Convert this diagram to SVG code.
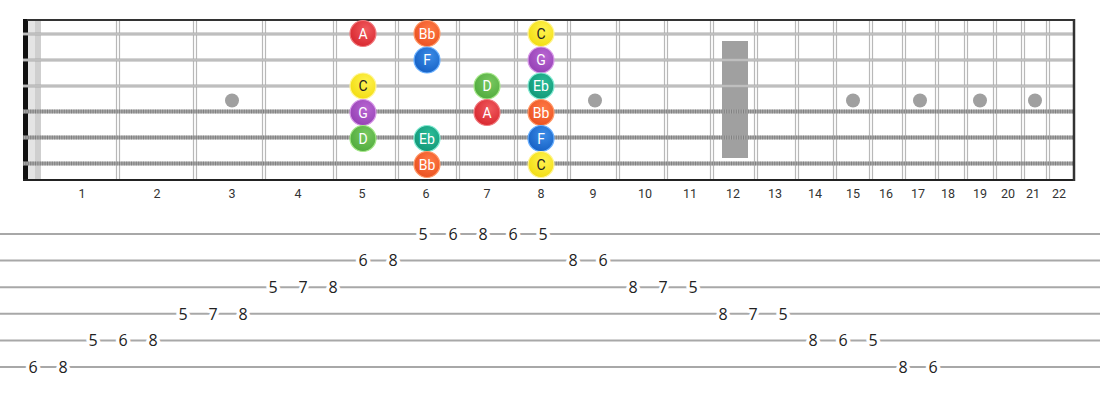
<svg xmlns="http://www.w3.org/2000/svg" width="1100" height="400" viewBox="0 0 1100 400">
<defs>
<style>
.fret{stroke:#b8b8b8;stroke-width:1.2;fill:none}
.str{stroke:#ababab;stroke-width:3}
.strin{stroke:#d2d2d2;stroke-width:1}
.wbase{stroke:#a8a8a8;stroke-width:4}
.wtex{stroke:#666;stroke-width:4;stroke-dasharray:1 1.4;opacity:0.6}
.dot{fill:#a0a0a0}
.fn{font-family:Roboto,"Liberation Sans",sans-serif;font-size:12.5px;fill:#333;text-anchor:middle}
.nt{font-family:Roboto,"Liberation Sans",sans-serif;font-size:14px;fill:#fff;text-anchor:middle}
.ntd{fill:#222}
.tl{stroke:#a8a8a8;stroke-width:2}
.tn{font-family:"Open Sans","Noto Sans","Liberation Sans",sans-serif;font-size:16px;fill:#222;text-anchor:middle;stroke:#fff;stroke-width:7;paint-order:stroke;stroke-linejoin:round}
</style>
<radialGradient id="gA" cx="0.6" cy="0.35" r="0.7"><stop offset="0" stop-color="#f05a5e"/><stop offset="1" stop-color="#d8262e"/></radialGradient>
<radialGradient id="gBb" cx="0.6" cy="0.35" r="0.7"><stop offset="0" stop-color="#ff7a45"/><stop offset="1" stop-color="#ea5020"/></radialGradient>
<radialGradient id="gF" cx="0.6" cy="0.35" r="0.7"><stop offset="0" stop-color="#3b8be6"/><stop offset="1" stop-color="#1560c4"/></radialGradient>
<radialGradient id="gC" cx="0.6" cy="0.35" r="0.7"><stop offset="0" stop-color="#fff350"/><stop offset="1" stop-color="#f2dc10"/></radialGradient>
<radialGradient id="gG" cx="0.6" cy="0.35" r="0.7"><stop offset="0" stop-color="#b865d2"/><stop offset="1" stop-color="#9440b4"/></radialGradient>
<radialGradient id="gD" cx="0.6" cy="0.35" r="0.7"><stop offset="0" stop-color="#78c860"/><stop offset="1" stop-color="#4faa3c"/></radialGradient>
<radialGradient id="gEb" cx="0.6" cy="0.35" r="0.7"><stop offset="0" stop-color="#2bbc98"/><stop offset="1" stop-color="#119676"/></radialGradient>
</defs>
<rect width="1100" height="400" fill="#fff"/>

<g id="fretboard">
<rect x="28" y="20" width="13" height="160" fill="#e4e4e4"/>
<rect x="35" y="20" width="6" height="160" fill="#cfcfcf"/>
<g id="frets">
<path class="fret" d="M116.5 20V180M119.5 20V180M193.5 20V180M196.5 20V180M262.5 20V180M265.5 20V180M333.5 20V180M336.5 20V180M395.5 20V180M398.5 20V180M456.5 20V180M459.5 20V180M514.5 20V180M517.5 20V180M567.5 20V180M570.5 20V180M616.5 20V180M619.5 20V180M664.5 20V180M667.5 20V180M710.5 20V180M713.5 20V180M754.5 20V180M757.5 20V180M795.5 20V180M798.5 20V180M833.5 20V180M836.5 20V180M869.5 20V180M872.5 20V180M902.5 20V180M905.5 20V180M935.5 20V180M938.5 20V180M964.5 20V180M967.5 20V180M993.5 20V180M996.5 20V180M1021.5 20V180M1024.5 20V180M1046.5 20V180M1049.5 20V180"/>
</g>
<g id="inlays">
<circle class="dot" cx="232" cy="100.5" r="7"/>
<circle class="dot" cx="595" cy="100.5" r="7"/>
<circle class="dot" cx="853" cy="100.5" r="7"/>
<circle class="dot" cx="920" cy="100.5" r="7"/>
<circle class="dot" cx="980" cy="100.5" r="7"/>
<circle class="dot" cx="1035" cy="100.5" r="7"/>
<rect x="722" y="41" width="26" height="117" fill="#a0a0a0"/>
</g>
<rect x="23" y="19" width="5" height="162" fill="#111"/>
<g id="strings">
<line class="str" x1="23" y1="34" x2="1074" y2="34"/>
<line class="strin" x1="23" y1="34" x2="1074" y2="34"/>
<line class="str" x1="23" y1="60" x2="1074" y2="60"/>
<line class="strin" x1="23" y1="60" x2="1074" y2="60"/>
<line class="str" x1="23" y1="86" x2="1074" y2="86"/>
<line class="strin" x1="23" y1="86" x2="1074" y2="86"/>
<line class="wbase" x1="23" y1="111.5" x2="1074" y2="111.5"/>
<line class="wtex" x1="23" y1="111.5" x2="1074" y2="111.5"/>
<line class="wbase" x1="23" y1="137.5" x2="1074" y2="137.5"/>
<line class="wtex" x1="23" y1="137.5" x2="1074" y2="137.5"/>
<line class="wbase" x1="23" y1="163.5" x2="1074" y2="163.5"/>
<line class="wtex" x1="23" y1="163.5" x2="1074" y2="163.5"/>
</g>
<line x1="27" y1="20" x2="1075" y2="20" stroke="#333" stroke-width="2"/>
<line x1="23" y1="180" x2="1075" y2="180" stroke="#222" stroke-width="2"/>
<line x1="1074" y1="19" x2="1074" y2="181" stroke="#333" stroke-width="2.5"/>
</g>

<g id="fret-numbers">
<text class="fn" x="82" y="198">1</text>
<text class="fn" x="157" y="198">2</text>
<text class="fn" x="232" y="198">3</text>
<text class="fn" x="298" y="198">4</text>
<text class="fn" x="362" y="198">5</text>
<text class="fn" x="426" y="198">6</text>
<text class="fn" x="487" y="198">7</text>
<text class="fn" x="541" y="198">8</text>
<text class="fn" x="593" y="198">9</text>
<text class="fn" x="645" y="198">10</text>
<text class="fn" x="690" y="198">11</text>
<text class="fn" x="733" y="198">12</text>
<text class="fn" x="775" y="198">13</text>
<text class="fn" x="815" y="198">14</text>
<text class="fn" x="853" y="198">15</text>
<text class="fn" x="886" y="198">16</text>
<text class="fn" x="918" y="198">17</text>
<text class="fn" x="948" y="198">18</text>
<text class="fn" x="980" y="198">19</text>
<text class="fn" x="1008" y="198">20</text>
<text class="fn" x="1033" y="198">21</text>
<text class="fn" x="1059" y="198">22</text>
</g>

<g id="notes">
<g id="n-s1-f5"><circle cx="363" cy="33.5" r="13" fill="url(#gA)" stroke="#f07a7e" stroke-width="1.2"/><text class="nt" x="363" y="38.5">A</text></g>
<g id="n-s1-f6"><circle cx="427" cy="33.5" r="13" fill="url(#gBb)" stroke="#ff9a6a" stroke-width="1.2"/><text class="nt" x="427" y="38.5">Bb</text></g>
<g id="n-s1-f8"><circle cx="541" cy="33.5" r="13" fill="url(#gC)" stroke="#fff59a" stroke-width="1.2"/><text class="nt ntd" x="541" y="38.5">C</text></g>
<g id="n-s2-f6"><circle cx="427" cy="60" r="13" fill="url(#gF)" stroke="#6ab0ff" stroke-width="1.2"/><text class="nt" x="427" y="65">F</text></g>
<g id="n-s2-f8"><circle cx="541" cy="60" r="13" fill="url(#gG)" stroke="#d89ae8" stroke-width="1.2"/><text class="nt" x="541" y="65">G</text></g>
<g id="n-s3-f5"><circle cx="363" cy="86" r="13" fill="url(#gC)" stroke="#fff59a" stroke-width="1.2"/><text class="nt ntd" x="363" y="91">C</text></g>
<g id="n-s3-f7"><circle cx="487" cy="86" r="13" fill="url(#gD)" stroke="#a6e88a" stroke-width="1.2"/><text class="nt" x="487" y="91">D</text></g>
<g id="n-s3-f8"><circle cx="541" cy="86" r="13" fill="url(#gEb)" stroke="#86ecd4" stroke-width="1.2"/><text class="nt" x="541" y="91">Eb</text></g>
<g id="n-s4-f5"><circle cx="363" cy="112.5" r="13" fill="url(#gG)" stroke="#d89ae8" stroke-width="1.2"/><text class="nt" x="363" y="117.5">G</text></g>
<g id="n-s4-f7"><circle cx="487" cy="112.5" r="13" fill="url(#gA)" stroke="#f07a7e" stroke-width="1.2"/><text class="nt" x="487" y="117.5">A</text></g>
<g id="n-s4-f8"><circle cx="541" cy="112.5" r="13" fill="url(#gBb)" stroke="#ff9a6a" stroke-width="1.2"/><text class="nt" x="541" y="117.5">Bb</text></g>
<g id="n-s5-f5"><circle cx="363" cy="138.5" r="13" fill="url(#gD)" stroke="#a6e88a" stroke-width="1.2"/><text class="nt" x="363" y="143.5">D</text></g>
<g id="n-s5-f6"><circle cx="427" cy="138.5" r="13" fill="url(#gEb)" stroke="#86ecd4" stroke-width="1.2"/><text class="nt" x="427" y="143.5">Eb</text></g>
<g id="n-s5-f8"><circle cx="541" cy="138.5" r="13" fill="url(#gF)" stroke="#6ab0ff" stroke-width="1.2"/><text class="nt" x="541" y="143.5">F</text></g>
<g id="n-s6-f6"><circle cx="427" cy="164.5" r="13" fill="url(#gBb)" stroke="#ff9a6a" stroke-width="1.2"/><text class="nt" x="427" y="169.5">Bb</text></g>
<g id="n-s6-f8"><circle cx="541" cy="164.5" r="13" fill="url(#gC)" stroke="#fff59a" stroke-width="1.2"/><text class="nt ntd" x="541" y="169.5">C</text></g>
</g>

<g id="tab">
<g id="tab-lines">
<line class="tl" x1="0" y1="234" x2="1100" y2="234"/>
<line class="tl" x1="0" y1="260.6" x2="1100" y2="260.6"/>
<line class="tl" x1="0" y1="287.2" x2="1100" y2="287.2"/>
<line class="tl" x1="0" y1="313.8" x2="1100" y2="313.8"/>
<line class="tl" x1="0" y1="340.4" x2="1100" y2="340.4"/>
<line class="tl" x1="0" y1="367" x2="1100" y2="367"/>
</g>
<g id="tab-numbers">
<text class="tn" x="423" y="239.8">5</text>
<text class="tn" x="453" y="239.8">6</text>
<text class="tn" x="483" y="239.8">8</text>
<text class="tn" x="513" y="239.8">6</text>
<text class="tn" x="543" y="239.8">5</text>
<text class="tn" x="363" y="266.4">6</text>
<text class="tn" x="393" y="266.4">8</text>
<text class="tn" x="573" y="266.4">8</text>
<text class="tn" x="603" y="266.4">6</text>
<text class="tn" x="273" y="293">5</text>
<text class="tn" x="303" y="293">7</text>
<text class="tn" x="333" y="293">8</text>
<text class="tn" x="633" y="293">8</text>
<text class="tn" x="663" y="293">7</text>
<text class="tn" x="693" y="293">5</text>
<text class="tn" x="183" y="319.6">5</text>
<text class="tn" x="213" y="319.6">7</text>
<text class="tn" x="243" y="319.6">8</text>
<text class="tn" x="723" y="319.6">8</text>
<text class="tn" x="753" y="319.6">7</text>
<text class="tn" x="783" y="319.6">5</text>
<text class="tn" x="93" y="346.2">5</text>
<text class="tn" x="123" y="346.2">6</text>
<text class="tn" x="153" y="346.2">8</text>
<text class="tn" x="813" y="346.2">8</text>
<text class="tn" x="843" y="346.2">6</text>
<text class="tn" x="873" y="346.2">5</text>
<text class="tn" x="33" y="372.8">6</text>
<text class="tn" x="63" y="372.8">8</text>
<text class="tn" x="903" y="372.8">8</text>
<text class="tn" x="933" y="372.8">6</text>
</g>
</g>
</svg>
